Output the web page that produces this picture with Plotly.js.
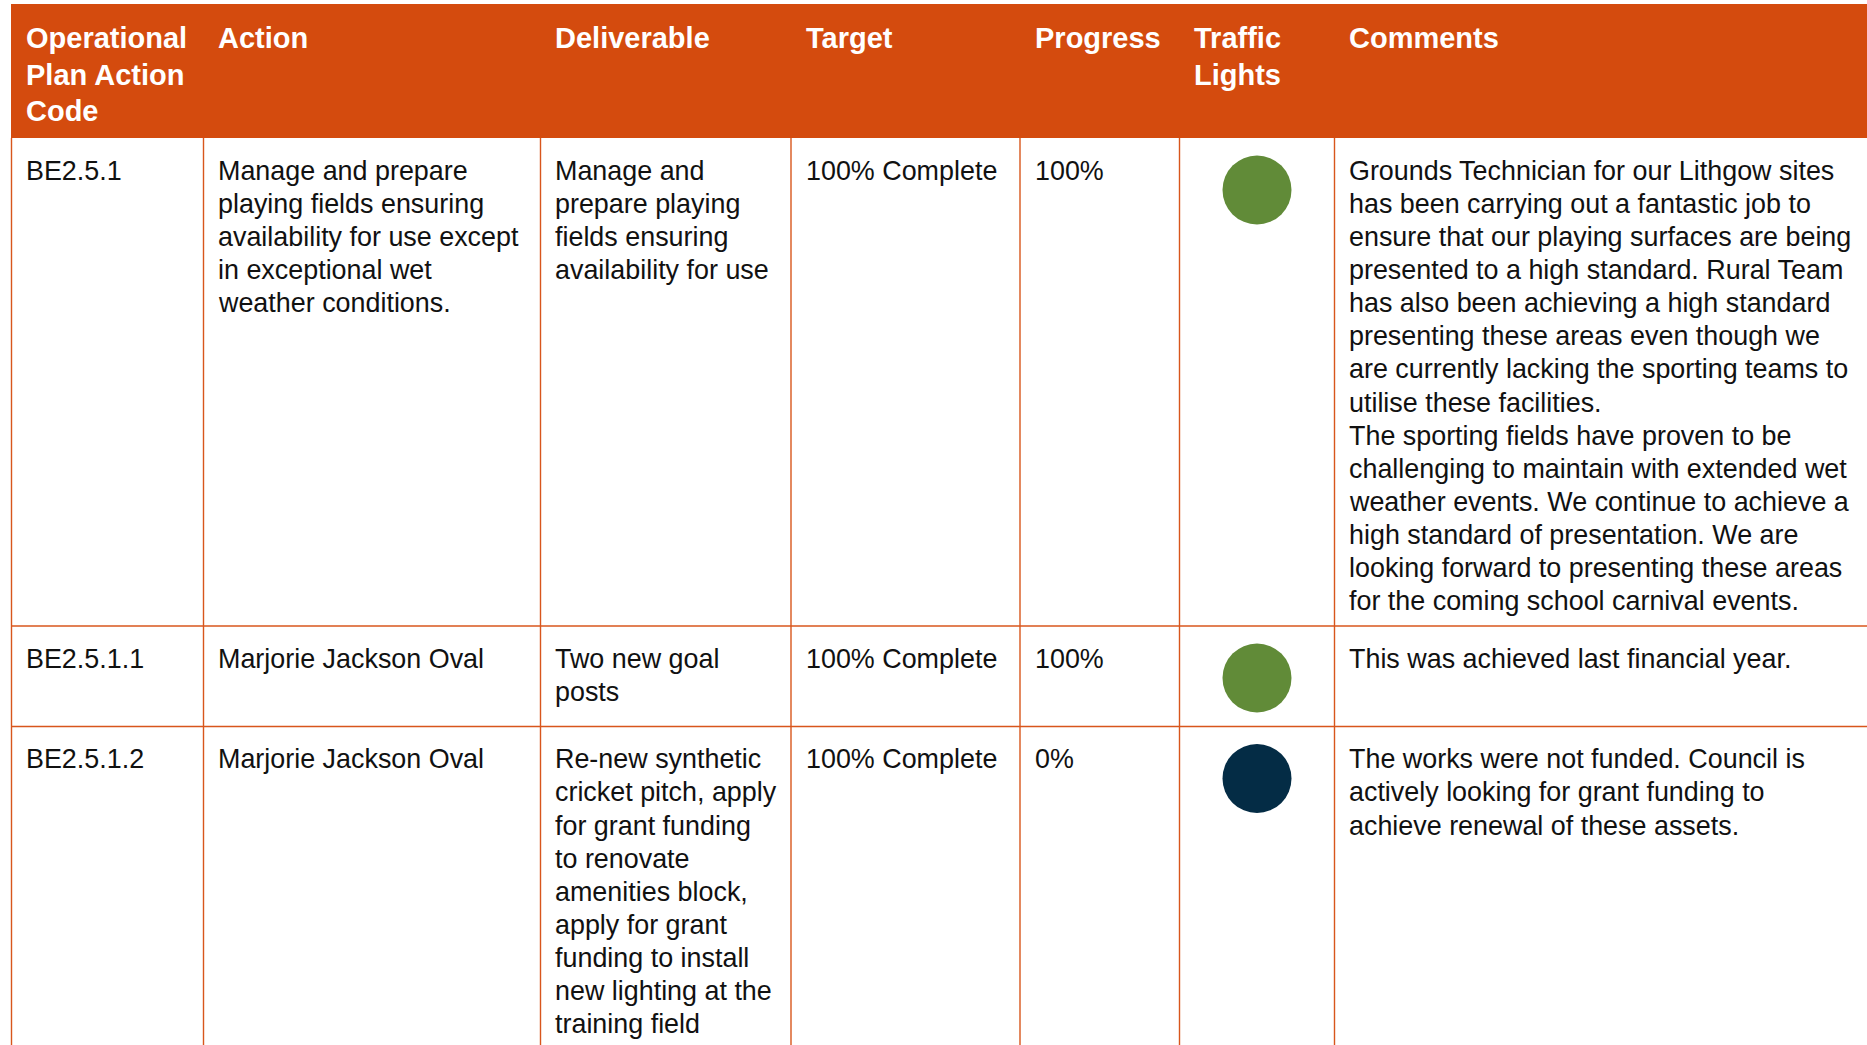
<!DOCTYPE html>
<html>
<head>
<meta charset="utf-8">
<script src="https://cdn.plot.ly/plotly-3.0.1.min.js"></script>
<style>
  html, body { margin: 0; padding: 0; background: #ffffff; }
  #chart { width: 1867px; height: 1045px; }
</style>
</head>
<body>
<div id="chart"></div>
<script>
// ---------------- DATA ----------------
const headers = ["Operational<br>Plan Action<br>Code", "Action", "Deliverable", "Target", "Progress", "Traffic<br>Lights", "Comments"];

const codes = ["BE2.5.1", "BE2.5.1.1", "BE2.5.1.2"];

const actions = [
  "Manage and prepare<br>playing fields ensuring<br>availability for use except<br>in exceptional wet<br>weather conditions.",
  "Marjorie Jackson Oval",
  "Marjorie Jackson Oval"
];

const deliverables = [
  "Manage and<br>prepare playing<br>fields ensuring<br>availability for use",
  "Two new goal<br>posts",
  "Re-new synthetic<br>cricket pitch, apply<br>for grant funding<br>to renovate<br>amenities block,<br>apply for grant<br>funding to install<br>new lighting at the<br>training field"
];

const targets = ["100% Complete", "100% Complete", "100% Complete"];

const progress = ["100%", "100%", "0%"];

const trafficLights = ["green", "green", "blue"];

const comments = [
  "Grounds Technician for our Lithgow sites<br>has been carrying out a fantastic job to<br>ensure that our playing surfaces are being<br>presented to a high standard. Rural Team<br>has also been achieving a high standard<br>presenting these areas even though we<br>are currently lacking the sporting teams to<br>utilise these facilities.<br>The sporting fields have proven to be<br>challenging to maintain with extended wet<br>weather events. We continue to achieve a<br>high standard of presentation. We are<br>looking forward to presenting these areas<br>for the coming school carnival events.",
  "This was achieved last financial year.",
  "The works were not funded. Council is<br>actively looking for grant funding to<br>achieve renewal of these assets."
];

// ---------------- LAYOUT / STYLE ----------------
const W = 1867, H = 1045;
const colEdges = [11.5, 203.5, 540.5, 791, 1020, 1179.5, 1334.5, 1867];
const headerTop = 4, headerBottom = 138;
const rowEdges = [138, 626, 726.5, 1100];
const ORANGE = "#D44B0E";
const LINE = "#D8561C";
const lightColors = { green: "#618B38", blue: "#042C45" };
const FONT = "Liberation Sans, Arial, Helvetica, sans-serif";
const PAD = 12.5;
const BODY_SIZE = 26.9, BODY_LH = 33.1, BODY_OFF = 15.8;
const HEAD_SIZE = 29, HEAD_LH = 36.7, HEAD_OFF = 15.8;

const shapes = [];
const annotations = [];

function addText(text, x, yTop, lh, font, bold) {
  text.split("<br>").forEach((line, i) => {
    annotations.push({
      xref: "x", yref: "y", x: x, y: yTop + i * lh,
      xanchor: "left", yanchor: "top", align: "left", showarrow: false,
      text: bold ? "<b>" + line + "</b>" : line,
      font: font
    });
  });
}

// header band
shapes.push({ type: "rect", xref: "x", yref: "y", x0: colEdges[0] - 0.5, x1: W + 5, y0: headerTop, y1: headerBottom,
  fillcolor: ORANGE, line: { width: 0 }, layer: "below" });

// header texts
headers.forEach((h, i) => {
  addText(h, colEdges[i] + PAD, headerTop + HEAD_OFF, HEAD_LH,
    { family: FONT, size: HEAD_SIZE, color: "#ffffff" }, true);
});

// grid lines (body)
for (let c = 0; c < colEdges.length - 1; c++) {
  shapes.push({ type: "line", xref: "x", yref: "y", x0: colEdges[c], x1: colEdges[c], y0: headerBottom, y1: rowEdges[rowEdges.length - 1],
    line: { color: LINE, width: 1.4 } });
}
for (let r = 1; r < rowEdges.length - 1; r++) {
  shapes.push({ type: "line", xref: "x", yref: "y", x0: colEdges[0], x1: W + 5, y0: rowEdges[r], y1: rowEdges[r],
    line: { color: LINE, width: 1.6 } });
}

// body texts
const bodyCols = [codes, actions, deliverables, targets, progress, null, comments];
codes.forEach((_, r) => {
  bodyCols.forEach((col, c) => {
    if (!col) return;
    addText(col[r], colEdges[c] + PAD, rowEdges[r] + BODY_OFF, BODY_LH,
      { family: FONT, size: BODY_SIZE, color: "#111111" }, false);
  });
});

// traffic light circles
const lightX = codes.map(() => (colEdges[5] + colEdges[6]) / 2);
const lightY = codes.map((_, r) => rowEdges[r] + 52);
const traces = [{
  type: "scatter", mode: "markers",
  x: lightX, y: lightY,
  marker: { size: 69, color: trafficLights.map(t => lightColors[t]), line: { width: 0 } },
  hoverinfo: "skip", showlegend: false
}];

const layout = {
  width: W, height: H,
  margin: { l: 0, r: 0, t: 0, b: 0, pad: 0 },
  paper_bgcolor: "#ffffff", plot_bgcolor: "#ffffff",
  xaxis: { range: [0, W], visible: false, fixedrange: true },
  yaxis: { range: [H, 0], visible: false, fixedrange: true },
  shapes: shapes,
  annotations: annotations,
  showlegend: false,
  hovermode: false
};

Plotly.newPlot("chart", traces, layout, { displayModeBar: false, staticPlot: true });
</script>
</body>
</html>
